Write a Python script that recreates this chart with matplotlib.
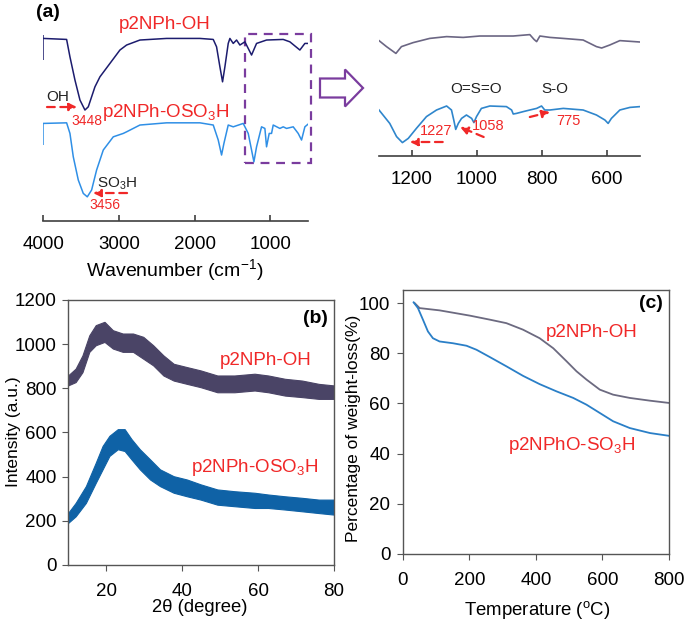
import matplotlib
matplotlib.use('Agg')
import matplotlib.pyplot as plt
from matplotlib.patches import Rectangle, FancyArrow

plt.rcParams['font.family'] = ['Liberation Sans', 'DejaVu Sans']
plt.rcParams['mathtext.fontset'] = 'custom'
plt.rcParams['mathtext.rm'] = 'Liberation Sans'
plt.rcParams['mathtext.it'] = 'Liberation Sans:italic'
plt.rcParams['mathtext.bf'] = 'Liberation Sans:bold'

# ---- (a) FTIR, full range (arbitrary transmittance units, curves offset)
ir_oh_wn = [4000, 3692, 3648, 3582, 3516, 3450, 3406, 3318, 3252, 3120, 2988, 2900, 2724,
            2372, 1932, 1756, 1712, 1668, 1633, 1602, 1558, 1536, 1492, 1448, 1404, 1338,
            1294, 1250, 1184, 1052, 832, 744, 612, 546, 502]
ir_oh = [97.5, 97, 88.3, 76.7, 66.7, 61.7, 63.3, 73.3, 78.3, 85, 91.7, 94.2, 96.7,
         97.5, 97.5, 97, 93.3, 83.3, 75.8, 83.3, 95, 97.5, 95, 96.7, 94.2, 95.8,
         92.5, 89.2, 95, 96.7, 97, 95.8, 91.7, 95, 95]
ir_so3h_wn = [4000, 3692, 3648, 3604, 3538, 3472, 3419, 3362, 3296, 3208, 3076, 2944, 2900,
              2724, 2372, 1932, 1756, 1690, 1646, 1615, 1558, 1492, 1360, 1294, 1250, 1219,
              1184, 1118, 1074, 1052, 1017, 986, 964, 876, 832, 788, 700, 634, 590, 546, 502]
ir_so3h = [55, 55.3, 50, 38.3, 26.7, 20, 18.3, 21.7, 31.7, 41.7, 48.3, 50, 50.8,
           54.2, 55.3, 55.3, 54.2, 46.7, 39.2, 45, 54.2, 53.3, 55, 50, 41.7, 35.8,
           43.3, 53.3, 52.5, 43.3, 50, 50, 54.2, 52.5, 53.3, 52.5, 53.3, 50, 46.7, 53.3, 54.7]
ir_ticks = [4000, 3000, 2000, 1000]

# ---- (a) FTIR, zoom 1300-500
zoom_oh_wn = [1300, 1277, 1248, 1231, 1195, 1144, 1092, 1041, 990, 938, 887, 836, 823,
              815, 805, 774, 733, 672, 631, 615, 590, 559, 497]
zoom_oh = [79.7, 76.7, 73.3, 76.7, 78.7, 80.8, 81.7, 81.3, 82, 82, 82, 82.7, 80.3,
           79.2, 82, 81.3, 80.8, 80, 76.7, 76, 77.5, 79.7, 79]
zoom_so3h_wn = [1300, 1267, 1246, 1228, 1210, 1185, 1154, 1123, 1092, 1077, 1070, 1064, 1056,
                1046, 1031, 1015, 1008, 1000, 985, 959, 908, 892, 887, 877, 856, 836, 815,
                800, 790, 774, 733, 672, 631, 605, 595, 585, 559, 528, 497]
zoom_so3h = [45, 38.3, 31.7, 28.7, 30.8, 35.8, 41.7, 45, 47, 45, 40, 35.3, 38.3,
             40.8, 42.5, 40.8, 38.7, 41.7, 45.8, 47, 46.7, 45, 43, 43.3, 44.2, 45, 45.8,
             47, 45, 45, 45.8, 45, 42.5, 40, 38.3, 40.8, 45, 46.3, 46.7]
zoom_ticks = [1200, 1000, 800, 600]

# ---- (b) XRD (noise band: upper / lower envelope)
xrd_oh_2t = [10, 12, 13.8, 15.6, 17.3, 19.6, 21.8, 24.4, 27.1, 29.8, 32.4, 35.1, 37.8,
             41.3, 44.9, 49.3, 53.8, 59.1, 62.7, 67.1, 71.6, 76, 80]
xrd_oh_hi = [858, 889, 949, 1040, 1086, 1101, 1063, 1048, 1048, 1033, 995, 949, 911,
             896, 881, 858, 858, 866, 858, 843, 835, 820, 813]
xrd_oh_lo = [813, 828, 873, 965, 995, 1010, 980, 965, 965, 934, 904, 858, 835,
             820, 805, 782, 782, 790, 782, 767, 760, 752, 752]
xrd_so3h_2t = [10, 12, 14.7, 17.3, 19.1, 20.9, 23.1, 24.9, 26.7, 28.9, 31.6, 34.2, 37.8,
               41.3, 44.9, 49.3, 53.8, 59.1, 62.7, 67.1, 71.6, 76, 80]
xrd_so3h_hi = [235, 281, 357, 463, 539, 585, 615, 615, 570, 524, 478, 433, 402,
               387, 365, 342, 334, 327, 319, 311, 304, 296, 296]
xrd_so3h_lo = [190, 220, 281, 372, 433, 494, 524, 516, 478, 433, 387, 357, 327,
               311, 296, 273, 266, 258, 258, 251, 243, 235, 228]

# ---- (c) TGA
tga_oh_t = [35, 50, 110, 201, 261, 311, 361, 411, 452, 492, 522, 552, 592, 632, 682, 743, 800]
tga_oh = [100, 98, 97.1, 95, 93.4, 92, 89.4, 86, 82, 76.8, 72.8, 69.5, 65.5, 63.5, 62.2, 61.1, 60.2]
tga_so3h_t = [32, 45, 60, 75, 90, 110, 150, 191, 221, 261, 311, 361, 411, 462, 512, 552,
              592, 632, 682, 743, 800]
tga_so3h = [100.3, 98, 93.4, 88.7, 86, 84.7, 84, 83, 81.4, 78.5, 74.8, 71, 67.7, 64.8,
            62.2, 59.5, 56.2, 52.9, 50.2, 48.2, 47.1]

RED = '#f02828'
PURPLE = '#7a3c9e'
SPINE = '#404040'
TICK_FS = 13.5
LAB_FS = 12.5


def red_arrow(ax, start, end):
    ax.annotate('', xy=end, xytext=start, annotation_clip=False,
                arrowprops=dict(arrowstyle='-|>,head_length=0.45,head_width=0.22',
                                color=RED, lw=1.6, linestyle=(0, (3.5, 2.5)),
                                shrinkA=0, shrinkB=0))


fig = plt.figure(figsize=(6.85, 6.24), dpi=100)

# ================= (a) main =================
ax = fig.add_axes([0.0632, 0.6458, 0.3864, 0.3221])
ax.plot(ir_oh_wn, ir_oh, color='#1c1c6e', lw=1.1)
ax.plot(ir_so3h_wn, ir_so3h, color='#2f8fe6', lw=1.1)
ax.vlines(ir_oh_wn[0], ir_oh[0] - 11, ir_oh[0] + 1.5, color='#1c1c6e', lw=1.1)
ax.vlines(ir_so3h_wn[0], ir_so3h[0] - 11, ir_so3h[0], color='#2f8fe6', lw=1.1)
ax.set_xlim(4000, 505)
ax.set_ylim(6.2, 106.7)
for s in ['left', 'right', 'top']:
    ax.spines[s].set_visible(False)
ax.spines['bottom'].set_color(SPINE)
ax.spines['bottom'].set_linewidth(1.2)
ax.set_yticks([])
ax.set_xticks(ir_ticks)
ax.tick_params(axis='x', direction='in', length=4, width=1.2, color=SPINE,
               labelsize=TICK_FS, pad=11)
ax.text(2394, 104.7, 'p2NPh-OH', color=RED, fontsize=13.5, ha='center', va='center')
ax.text(2381, 60.7, 'p2NPh-OSO$_3$H', color=RED, fontsize=13.5, ha='center', va='center')
ax.text(3806, 68.2, 'OH', color='#222222', fontsize=11, ha='center', va='center')
red_arrow(ax, (3951, 63.2), (3555, 63.2))
ax.text(3422, 56.2, '3448', color=RED, fontsize=10, ha='center', va='center')
ax.text(3026, 24.7, 'SO$_3$H', color='#222222', fontsize=11, ha='center', va='center')
red_arrow(ax, (2894, 20.2), (3343, 20.2))
ax.text(3186, 14.2, '3456', color=RED, fontsize=10, ha='center', va='center')
ax.add_patch(Rectangle((1339, 35.3), 459 - 1339, 99.5 - 35.3, fill=False,
                       ec=PURPLE, ls=(0, (4, 3)), lw=1.6, clip_on=False))
fig.text(0.2555, 0.567, 'Wavenumber (cm$^{-1}$)', fontsize=14, ha='center', va='center')
fig.text(0.070, 0.980, '(a)', fontsize=14, fontweight='bold', ha='center', va='center')

# hollow arrow between the two FTIR panels
fig.patches.append(FancyArrow(3.20, 5.36, 0.43, 0, width=0.19, head_width=0.37,
                              head_length=0.18, length_includes_head=True,
                              transform=fig.dpi_scale_trans, fc='white', ec=PURPLE, lw=1.6))

# ================= (a) zoom =================
az = fig.add_axes([0.5533, 0.75, 0.381, 0.2019])
az.plot(zoom_oh_wn, zoom_oh, color='#6b6683', lw=1.2)
az.plot(zoom_so3h_wn, zoom_so3h, color='#2f86cc', lw=1.2)
az.set_xlim(1300, 497)
az.set_ylim(22, 85)
for s in ['left', 'right', 'top']:
    az.spines[s].set_visible(False)
az.spines['bottom'].set_color(SPINE)
az.spines['bottom'].set_linewidth(1.2)
az.set_yticks([])
az.set_xticks(zoom_ticks)
az.tick_params(axis='x', direction='in', length=4, width=1.2, color=SPINE,
               labelsize=TICK_FS, pad=11)
az.text(1002, 55.5, 'O=S=O', color='#222222', fontsize=11, ha='center', va='center')
az.text(759, 55.5, 'S-O', color='#222222', fontsize=11, ha='center', va='center')
az.text(1125, 34.5, '1227', color=RED, fontsize=10.5, ha='center', va='center')
red_arrow(az, (1104, 29), (1205, 29))
az.text(965, 37, '1058', color=RED, fontsize=10.5, ha='center', va='center')
red_arrow(az, (978, 31.5), (1051, 36.5))
az.text(716, 39.5, '775', color=RED, fontsize=10.5, ha='center', va='center')
red_arrow(az, (836, 41.5), (774, 44))

# ================= (b) XRD =================
bx = fig.add_axes([0.0993, 0.0946, 0.3883, 0.4247])
bx.fill_between(xrd_oh_2t, xrd_oh_lo, xrd_oh_hi, color='#4a4466', lw=0.8)
bx.fill_between(xrd_so3h_2t, xrd_so3h_lo, xrd_so3h_hi, color='#0f62a6', lw=0.8)
bx.set_xlim(10, 80)
bx.set_ylim(0, 1200)
bx.set_xticks([20, 40, 60, 80])
bx.set_yticks(range(0, 1201, 200))
for s in bx.spines.values():
    s.set_color('#555555')
    s.set_linewidth(1.0)
bx.tick_params(direction='out', length=4, color='#555555', labelsize=TICK_FS)
bx.tick_params(axis='x', pad=9)
bx.tick_params(axis='y', pad=4)
bx.text(75.2, 1114, '(b)', fontsize=14, fontweight='bold', ha='center', va='center')
bx.text(61.9, 924, 'p2NPh-OH', color=RED, fontsize=13.5, ha='center', va='center')
bx.text(59.2, 443, 'p2NPh-OSO$_3$H', color=RED, fontsize=13.5, ha='center', va='center')
fig.text(0.019, 0.308, 'Intensity (a.u.)', rotation=90, fontsize=LAB_FS, ha='center', va='center')
fig.text(0.292, 0.026, '2θ (degree)', fontsize=13.3, ha='center', va='center')

# ================= (c) TGA =================
cx = fig.add_axes([0.5883, 0.1122, 0.3883, 0.423])
cx.plot(tga_oh_t, tga_oh, color='#6c6a80', lw=1.3)
cx.plot(tga_so3h_t, tga_so3h, color='#2a7fc7', lw=1.3)
cx.set_xlim(0, 800)
cx.set_ylim(0, 105.2)
cx.set_xticks(range(0, 801, 200))
cx.set_yticks(range(0, 101, 20))
for s in cx.spines.values():
    s.set_color('#555555')
    s.set_linewidth(1.0)
cx.tick_params(direction='out', length=4, color='#555555', labelsize=TICK_FS)
cx.tick_params(axis='x', pad=9)
cx.tick_params(axis='y', pad=5)
cx.text(746, 100, '(c)', fontsize=14, fontweight='bold', ha='center', va='center')
cx.text(568, 88.4, 'p2NPh-OH', color=RED, fontsize=13.5, ha='center', va='center')
cx.text(508, 43.4, 'p2NPhO-SO$_3$H', color=RED, fontsize=13.5, ha='center', va='center')
fig.text(0.516, 0.314, 'Percentage of weight-loss(%)', rotation=90, fontsize=LAB_FS,
         ha='center', va='center')
fig.text(0.784, 0.0224, 'Temperature ($^{\\mathrm{o}}$C)', fontsize=13.4, ha='center', va='center')

fig.savefig('out.png', dpi=100)
